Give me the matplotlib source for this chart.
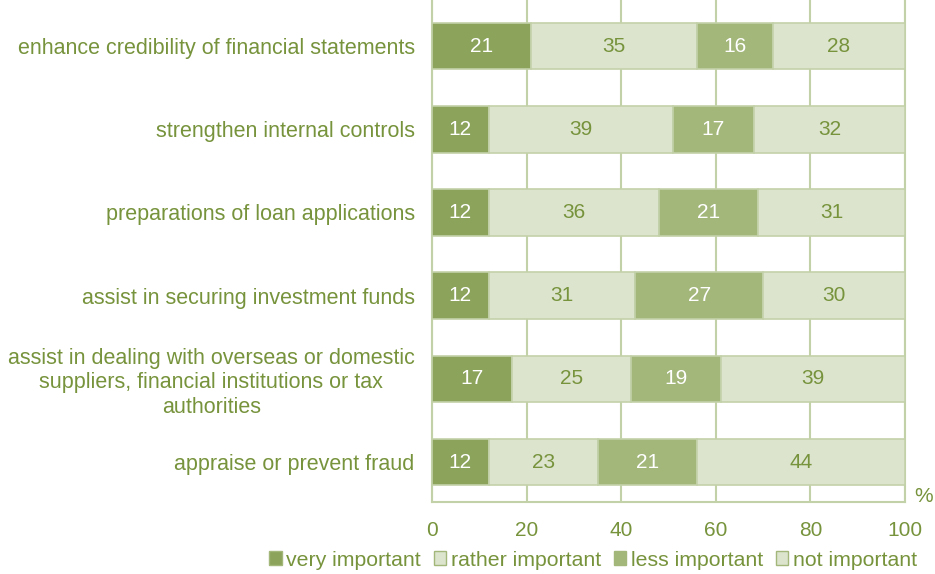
import matplotlib.pyplot as plt
from matplotlib.patches import Patch

# survey shares per reason (percent of respondents)
categories = [
    "enhance credibility of financial statements",
    "strengthen internal controls",
    "preparations of loan applications",
    "assist in securing investment funds",
    "assist in dealing with overseas or domestic\nsuppliers, financial institutions or tax\nauthorities",
    "appraise or prevent fraud",
]
levels = ["very important", "rather important", "less important", "not important"]
very_important = [21, 12, 12, 12, 17, 12]
rather_important = [35, 39, 36, 31, 25, 23]
less_important = [16, 17, 21, 27, 19, 21]
not_important = [28, 32, 31, 30, 39, 44]

colors = ["#8ba35a", "#dce4ce", "#a3b77a", "#dce4ce"]
label_colors = ["white", "#77933c", "white", "#77933c"]
text_green = "#77933c"
grid_green = "#c3d1a9"

plt.rcParams["font.family"] = ["Liberation Sans", "DejaVu Sans"]

fig = plt.figure(figsize=(9.35, 5.74), dpi=100)
ax = fig.add_axes([432 / 935, 72 / 574, 473 / 935, 502 / 574])

series = [very_important, rather_important, less_important, not_important]
y = list(range(len(categories)))
left = [0] * len(categories)
for vals, name, col, tcol in zip(series, levels, colors, label_colors):
    bars = ax.barh(y, vals, left=left, height=0.56, color=col,
                   edgecolor=grid_green, linewidth=1.2, label=name, zorder=3)
    for b, v in zip(bars, vals):
        ax.text(b.get_x() + b.get_width() / 2, b.get_y() + b.get_height() / 2,
                str(v), ha="center", va="center", color=tcol, fontsize=15,
                zorder=4)
    left = [a + b for a, b in zip(left, vals)]

ax.set_xlim(0, 100)
ax.set_ylim(len(categories) - 0.52, -0.553)
ax.set_xticks([0, 20, 40, 60, 80, 100])
ax.tick_params(axis="x", colors=text_green, labelsize=15, length=0, pad=14)
ax.tick_params(axis="y", length=0, pad=12.5)
ax.set_yticks(y)
ax.set_yticklabels(categories, color=text_green, fontsize=15.5,
                   ha="right", multialignment="center")
ax.grid(axis="x", color=grid_green, linewidth=1.5, zorder=0)
ax.spines["top"].set_visible(False)
for side in ["left", "right", "bottom"]:
    ax.spines[side].set_color(grid_green)
    ax.spines[side].set_linewidth(1.5)

ax.text(1.02, -0.008, "%", transform=ax.transAxes, color=text_green,
        fontsize=15, ha="left", va="bottom")

handles = [Patch(facecolor=c, edgecolor="#a3b77a", label=n)
           for c, n in zip(colors, levels)]
fig.legend(handles=handles, loc="center", bbox_to_anchor=(593 / 935, 1 - 560 / 574),
           ncol=4, frameon=False, fontsize=15.3, labelcolor=text_green,
           handlelength=0.6, handleheight=0.6, handletextpad=0.2,
           columnspacing=0.6, borderpad=0)

fig.savefig("out.png", dpi=100)
